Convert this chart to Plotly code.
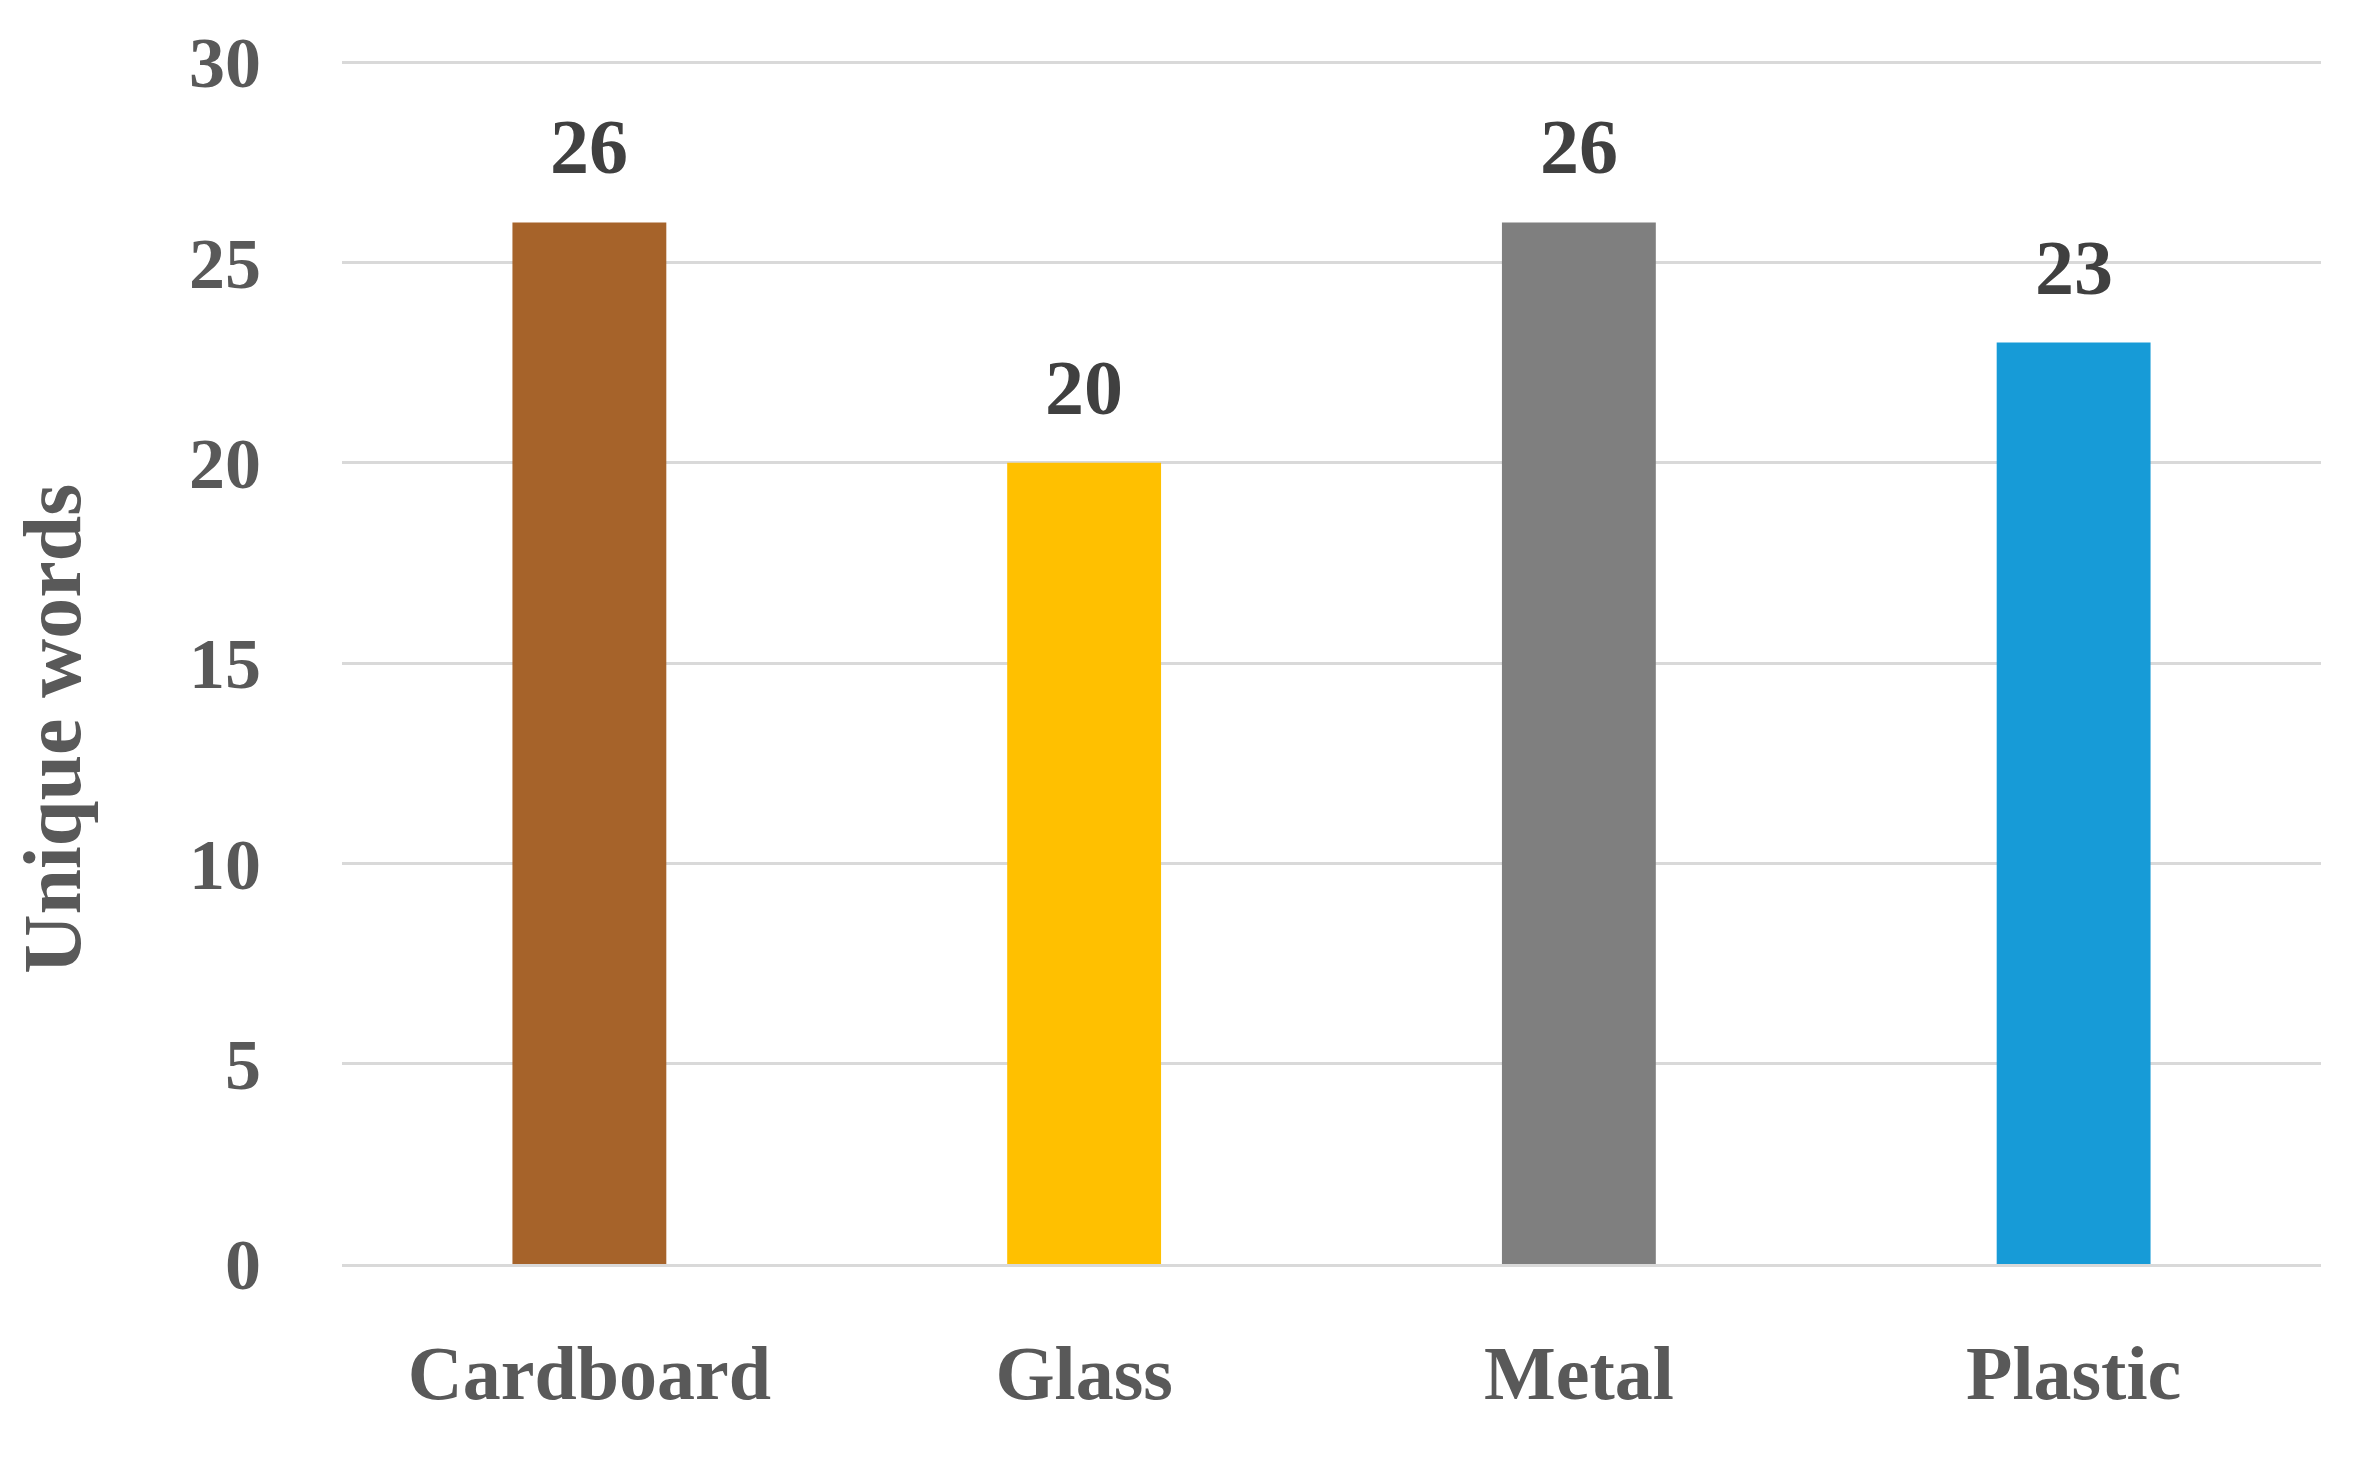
import plotly.graph_objects as go

categories = ["Cardboard", "Glass", "Metal", "Plastic"]
values = [26, 20, 26, 23]
bar_colors = ["#A6632A", "#FFC000", "#7F7F7F", "#179BD7"]
y_ticks = [0, 5, 10, 15, 20, 25, 30]

FONT = "Liberation Serif"

fig = go.Figure()
fig.add_trace(go.Bar(
    x=categories, y=values,
    marker=dict(color=bar_colors, line=dict(width=0)),
    hoverinfo="skip",
))

for c, v in zip(categories, values):
    fig.add_annotation(
        x=c, y=v, xref="x", yref="y", text=str(v), showarrow=False,
        yanchor="bottom", yshift=30,
        font=dict(family=FONT, size=78, color="#404040", weight="bold"),
    )

fig.add_annotation(
    x=-0.146, y=0.445, xref="paper", yref="paper", text="Unique words",
    textangle=-90, showarrow=False, xanchor="center", yanchor="middle",
    font=dict(family=FONT, size=82, color="#595959", weight="bold"),
)

fig.update_layout(
    width=2371, height=1469,
    margin=dict(l=334, r=58, t=53, b=213),
    paper_bgcolor="white", plot_bgcolor="white",
    bargap=0.689,
    showlegend=False,
    xaxis=dict(
        showgrid=False, showline=True, linecolor="#D9D9D9", linewidth=3,
        ticks="", ticklabelstandoff=41,
        tickfont=dict(family=FONT, size=76, color="#595959", weight="bold"),
    ),
    yaxis=dict(
        range=[0, 30.03], tickvals=y_ticks, showgrid=True, gridcolor="#D9D9D9",
        gridwidth=3, zeroline=False, showline=False, ticks="",
        ticklabelstandoff=80,
        tickfont=dict(family=FONT, size=72, color="#595959", weight="bold"),
    ),
)

fig.write_html("out.html")
